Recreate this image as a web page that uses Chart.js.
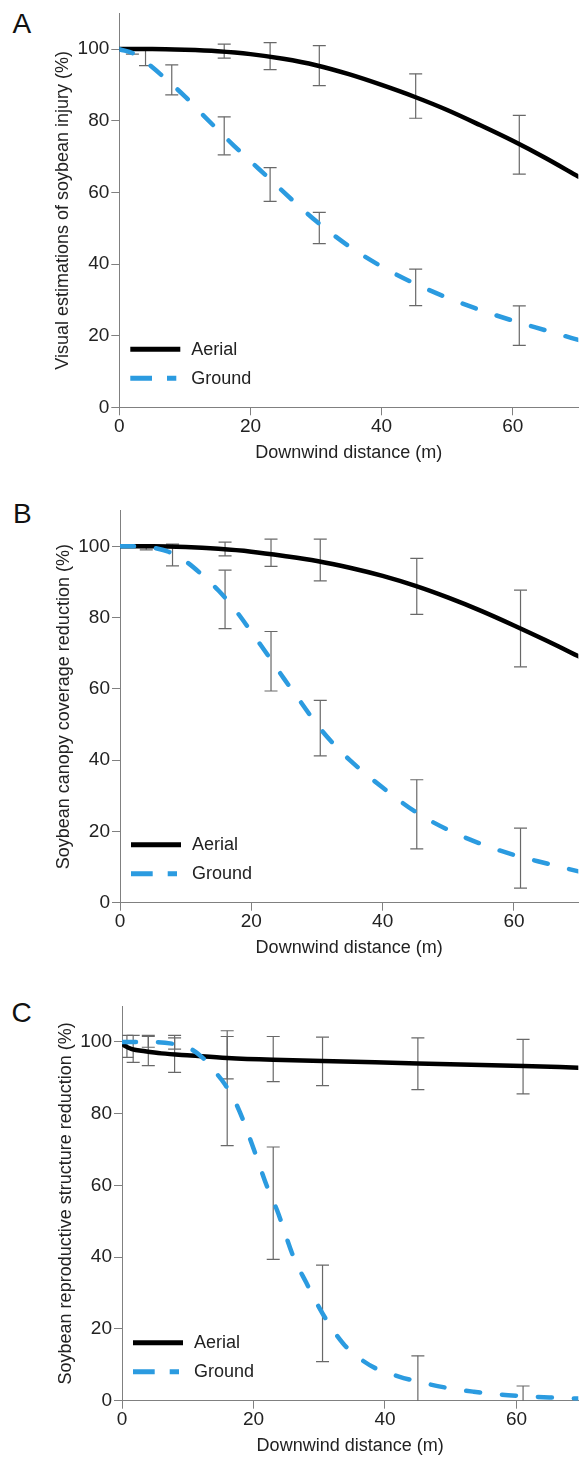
<!DOCTYPE html>
<html><head><meta charset="utf-8">
<script src="https://cdn.jsdelivr.net/npm/chart.js@4/dist/chart.umd.min.js"></script>
<style>
html,body{margin:0;padding:0;background:#fff;width:586px;height:1457px;overflow:hidden;position:relative;}
canvas{position:absolute;left:0;}
.letter{position:absolute;font-family:"Liberation Sans",Arial,sans-serif;font-size:28px;line-height:28px;color:#111;}
</style></head><body>
<div class="letter" style="left:12.5px;top:9.7px">A</div>
<div class="letter" style="left:13px;top:499.7px">B</div>
<div class="letter" style="left:11.6px;top:998.5px">C</div>
<canvas id="cA" width="586" height="490" style="top:0px"></canvas>
<canvas id="cB" width="586" height="490" style="top:490px"></canvas>
<canvas id="cC" width="586" height="477" style="top:980px"></canvas>
<script>
// ---------- tick labels ----------
const yTickValues = [0, 20, 40, 60, 80, 100];
const xTickValues = [0, 20, 40, 60];
const seriesNames = ['Aerial', 'Ground'];
const xTitle = 'Downwind distance (m)';
const yTitles = [
  'Visual estimations of soybean injury (%)',
  'Soybean canopy coverage reduction (%)',
  'Soybean reproductive structure reduction (%)'
];

// ---------- Panel A ----------
const aAerialX = [0, 5, 10, 15, 20, 25, 30, 35, 40, 45, 50, 55, 60, 65, 70];
const aAerialY = [100, 100, 99.8, 99.4, 98.6, 97.3, 95.5, 93.0, 90.0, 86.7, 83.0, 78.8, 74.4, 69.6, 64.4];
const aGroundX = [0, 2.5, 5, 7.5, 10, 12.5, 15, 17.5, 20, 22.5, 25, 27.5, 30, 35, 40, 45, 50, 55, 60, 65, 70];
const aGroundY = [100, 98.5, 95, 91, 86.8, 82.1, 77.5, 73, 68.7, 64.5, 60.2, 56, 52, 45, 39.3, 34.6, 30.6, 27.2, 24.2, 21.5, 18.8];
const aAerialBarX = [16, 23, 30.5, 45.2, 61];
const aAerialBarLo = [97.5, 94.3, 89.8, 80.7, 65.1];
const aAerialBarHi = [101.4, 101.8, 101.0, 93.1, 81.5];
const aGroundBarX = [2, 4, 8, 16, 23, 30.5, 45.2, 61];
const aGroundBarLo = [98.6, 95.4, 87.2, 70.5, 57.5, 45.7, 28.4, 17.3];
const aGroundBarHi = [99.9, 99.8, 95.6, 81.1, 66.9, 54.4, 38.6, 28.3];

// ---------- Panel B ----------
const bAerialX = [0, 5, 10, 15, 20, 25, 30, 35, 40, 45, 50, 55, 60, 65, 70];
const bAerialY = [100, 100, 99.8, 99.3, 98.5, 97.3, 95.9, 94.0, 91.7, 88.9, 85.6, 81.9, 77.8, 73.5, 69.0];
const bGroundX = [0, 2.5, 5, 7.5, 10, 12.5, 15, 17.5, 20, 22.5, 25, 27.5, 30, 32.5, 35, 40, 45, 50, 55, 60, 65, 70];
const bGroundY = [100, 100, 99.6, 98.4, 95.8, 92, 87.6, 82.3, 76, 69.5, 62.8, 56.4, 50, 44.6, 40, 32.3, 25.5, 20.4, 16.5, 13.4, 11, 8.7];
const bAerialBarX = [16, 23, 30.5, 45.2, 61];
const bAerialBarLo = [97.3, 94.4, 90.3, 80.9, 66.2];
const bAerialBarHi = [101.2, 102.0, 102.0, 96.6, 87.7];
const bGroundBarX = [4, 8, 16, 23, 30.5, 45.2, 61];
const bGroundBarLo = [99.0, 94.5, 76.9, 59.4, 41.2, 15.1, 4.1];
const bGroundBarHi = [99.6, 100.6, 93.3, 76.1, 56.8, 34.5, 20.9];

// ---------- Panel C ----------
const cAerialX = [0, 0.5, 1.5, 3.5, 6, 10.5, 16, 23, 30.5, 45, 61, 69.4];
const cAerialY = [99.5, 98.8, 98.0, 97.4, 96.8, 96.2, 95.5, 95.0, 94.7, 94.0, 93.3, 92.8];
const cGroundX = [0, 4, 8, 10, 12.2, 14, 15.6, 17.6, 20.1, 22.1, 23.6, 26.1, 28, 30.5, 33.6, 36, 38.6, 42, 45, 50, 53.5, 57, 60.9, 65, 69.4];
const cGroundY = [100, 100, 99.4, 98.5, 95.7, 92, 88.3, 81.8, 69.8, 59.5, 53, 40, 33, 24.3, 16, 12, 9, 6.8, 5.3, 3.4, 2.5, 1.8, 1.3, 0.9, 0.6];
const cAerialBarX = [0.75, 1.7, 4, 8, 16, 23, 30.5, 45, 61];
const cAerialBarLo = [95.7, 94.3, 93.4, 91.5, 89.7, 88.9, 87.8, 86.7, 85.5];
const cAerialBarHi = [101.8, 101.8, 101.8, 101.8, 103.1, 101.5, 101.3, 101.1, 100.7];
const cGroundBarX = [4, 8, 16, 23, 30.5, 45, 61];
const cGroundBarLo = [98.5, 98.0, 71.1, 39.4, 10.9, -3, -3];
const cGroundBarHi = [101.5, 101.1, 101.5, 70.7, 37.8, 12.5, 4.1];

// ---------- styling ----------
const FONT = '"Liberation Sans", Arial, sans-serif';
const TEXT = '#222222';
const AXIS = '#808080';
const BAR = '#686868';
const BLUE = '#2b9be0';
const BLACK = '#000000';

function pts(xs, ys) { return xs.map((x, i) => ({x: x, y: ys[i]})); }
function barPts(xs, lo, hi) {
  const out = [];
  xs.forEach((x, i) => { out.push({x: x, y: lo[i]}); out.push({x: x, y: hi[i]}); out.push({x: x, y: null}); });
  return out;
}

const insetLegend = {
  id: 'insetLegend',
  afterDatasetsDraw(chart) {
    const {ctx, chartArea} = chart;
    const items = chart.data.datasets.filter(d => d.legendRank !== undefined)
      .sort((a, b) => a.legendRank - b.legendRank);
    ctx.save();
    items.forEach((d, i) => {
      const y = chartArea.bottom - 58 + i * 29;
      const x0 = chartArea.left + 11;
      ctx.beginPath();
      ctx.strokeStyle = d.borderColor;
      ctx.lineWidth = 5;
      ctx.lineCap = 'butt';
      ctx.setLineDash(d.legendDash || []);
      ctx.moveTo(x0, y);
      ctx.lineTo(x0 + (d.legendDash ? 46 : 50), y);
      ctx.stroke();
      ctx.setLineDash([]);
      ctx.fillStyle = TEXT;
      ctx.font = '18px ' + FONT;
      ctx.textBaseline = 'middle';
      ctx.textAlign = 'left';
      ctx.fillText(d.label, chartArea.left + 72, y + 0.5);
    });
    ctx.restore();
  }
};

function makePanel(id, o) {
  const datasets = [
    { label: seriesNames[1], legendRank: 1, legendDash: [21.7, 15], data: pts(o.gx, o.gy),
      borderColor: BLUE, borderWidth: 4.5, borderDash: [14, 22], borderCapStyle: 'round',
      pointRadius: 0, cubicInterpolationMode: 'monotone', fill: false },
    { label: seriesNames[0], legendRank: 0, data: pts(o.ax, o.ay),
      borderColor: BLACK, borderWidth: 4.5, borderCapStyle: 'round',
      pointRadius: 0, cubicInterpolationMode: 'monotone', fill: false },
    { label: 'Aerial SE', data: barPts(o.abx, o.ablo, o.abhi), borderColor: BAR, borderWidth: 1.2,
      spanGaps: false, tension: 0, pointStyle: 'line', pointRadius: 6.5, pointBorderColor: BAR,
      pointBorderWidth: 1.2, pointRotation: 0, fill: false },
    { label: 'Ground SE', data: barPts(o.gbx, o.gblo, o.gbhi), borderColor: BAR, borderWidth: 1.2,
      spanGaps: false, tension: 0, pointStyle: 'line', pointRadius: 6.5, pointBorderColor: BAR,
      pointBorderWidth: 1.2, pointRotation: 0, fill: false }
  ];
  return new Chart(document.getElementById(id), {
    type: 'line',
    data: { datasets: datasets },
    plugins: [insetLegend],
    options: {
      responsive: false, animation: false, devicePixelRatio: 1, events: [],
      layout: { padding: o.pad },
      plugins: { legend: { display: false }, tooltip: { enabled: false } },
      scales: {
        x: {
          type: 'linear', min: 0, max: o.xMax,
          afterBuildTicks: s => { s.ticks = xTickValues.map(v => ({value: v})); },
          afterFit: s => { s.height = 56.3; s.paddingLeft = 0; s.paddingRight = 0; s.paddingTop = 0; s.paddingBottom = 0; },
          ticks: { color: TEXT, font: { size: 19, family: FONT }, padding: 0, maxRotation: 0, autoSkip: false },
          grid: { display: true, drawOnChartArea: false, drawTicks: true, tickLength: 8, color: AXIS, tickColor: AXIS, tickWidth: 1 },
          border: { display: true, color: AXIS, width: 1 },
          title: { display: true, text: xTitle, color: TEXT, font: { size: 18, family: FONT }, padding: { top: 0, bottom: 0 } }
        },
        y: {
          type: 'linear', min: 0, max: 110,
          afterBuildTicks: s => { s.ticks = yTickValues.map(v => ({value: v})); },
          afterFit: s => { s.width = 67; s.paddingLeft = 0; s.paddingRight = 0; s.paddingTop = 0; s.paddingBottom = 0; },
          ticks: { color: TEXT, font: { size: 19, family: FONT }, padding: 2, autoSkip: false },
          grid: { display: true, drawOnChartArea: false, drawTicks: true, tickLength: 8, color: AXIS, tickColor: AXIS, tickWidth: 1 },
          border: { display: true, color: AXIS, width: 1 },
          title: { display: true, text: o.yTitle, color: TEXT, font: { size: 18, family: FONT }, padding: { top: 0, bottom: 0 } }
        }
      }
    }
  });
}

makePanel('cA', { ax: aAerialX, ay: aAerialY, gx: aGroundX, gy: aGroundY,
  abx: aAerialBarX, ablo: aAerialBarLo, abhi: aAerialBarHi,
  gbx: aGroundBarX, gblo: aGroundBarLo, gbhi: aGroundBarHi,
  xMax: 70, yTitle: yTitles[0], pad: { top: 13.3, left: 52.3, right: 0, bottom: 26.4 } });
makePanel('cB', { ax: bAerialX, ay: bAerialY, gx: bGroundX, gy: bGroundY,
  abx: bAerialBarX, ablo: bAerialBarLo, abhi: bAerialBarHi,
  gbx: bGroundBarX, gblo: bGroundBarLo, gbhi: bGroundBarHi,
  xMax: 69.8, yTitle: yTitles[1], pad: { top: 20.7, left: 53, right: 0, bottom: 21 } });
makePanel('cC', { ax: cAerialX, ay: cAerialY, gx: cGroundX, gy: cGroundY,
  abx: cAerialBarX, ablo: cAerialBarLo, abhi: cAerialBarHi,
  gbx: cGroundBarX, gblo: cGroundBarLo, gbhi: cGroundBarHi,
  xMax: 69.4, yTitle: yTitles[2], pad: { top: 26, left: 55, right: 0, bottom: 0 } });
</script>
</body></html>
